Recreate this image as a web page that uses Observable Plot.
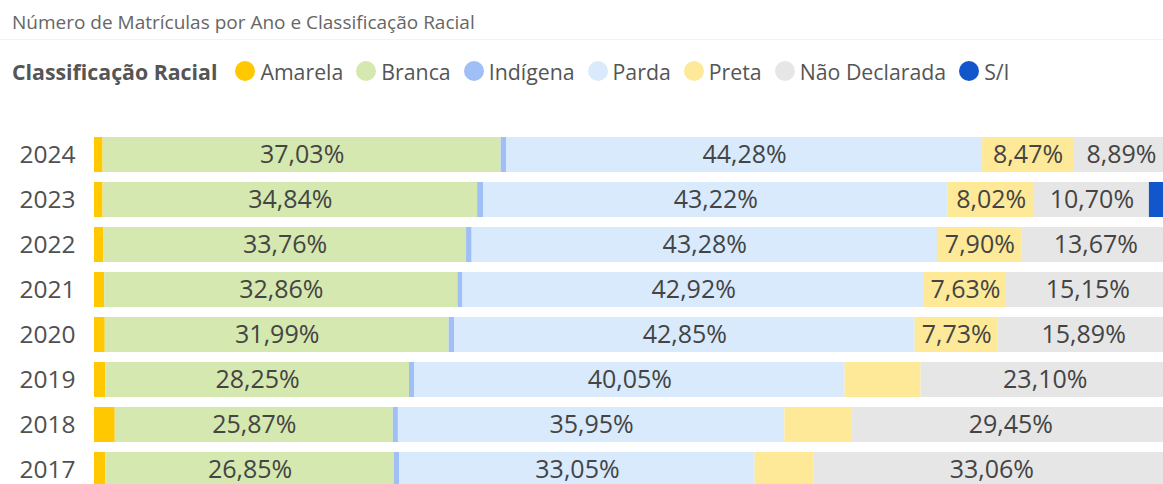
<!DOCTYPE html>
<html><head><meta charset="utf-8">
<script src="https://cdn.jsdelivr.net/npm/d3@7"></script>
<script src="https://cdn.jsdelivr.net/npm/@observablehq/plot@0.6"></script>
<style>
html,body{margin:0;padding:0;overflow:hidden;background:#fff;width:1163px;height:484px}
body{font-family:"Open Sans",sans-serif;position:relative}
#title{position:absolute;left:12px;top:9px;font-size:19px;color:#666;white-space:nowrap}
#sep{position:absolute;left:0;top:39px;width:1163px;height:1px;background:#f3f3f3}
#legend{position:absolute;left:12px;top:58px;height:26px;display:flex;align-items:center;white-space:nowrap;font-size:21.3px;color:#555}
#legend .hdr{font-weight:700;margin-right:18px}
#legend .sw{width:20px;height:20px;border-radius:50%;margin-right:5px;flex:none}
#legend .it{margin-right:13px}
#chart{position:absolute;left:0;top:100px}
</style></head><body>
<div id="title">Número de Matrículas por Ano e Classificação Racial</div>
<div id="sep"></div>
<div id="legend"></div>
<div id="chart"></div>
<script>
const years = ["2024","2023","2022","2021","2020","2019","2018","2017"];
const categories = ["Amarela","Branca","Indígena","Parda","Preta","Não Declarada","S/I"];
const colors = ["#FFC800","#D5E8B0","#A0BFF6","#D8EAFC","#FEE999","#E6E6E6","#1256CC"];
const amarela      = [0.80, 0.80, 0.85, 0.95, 1.00, 1.05, 1.93, 1.05];
const branca       = [37.03,34.84,33.76,32.86,31.99,28.25,25.87,26.85];
const indigena     = [0.50, 0.55, 0.52, 0.47, 0.50, 0.47, 0.47, 0.50];
const parda        = [44.28,43.22,43.28,42.92,42.85,40.05,35.95,33.05];
const preta        = [8.47, 8.02, 7.90, 7.63, 7.73, 7.07, 6.30, 5.49];
const naoDeclarada = [8.89, 10.70,13.67,15.15,15.89,23.10,29.45,33.06];
const semInfo      = [0.00, 1.87, 0.00, 0.00, 0.00, 0.00, 0.00, 0.00];
const series = [amarela, branca, indigena, parda, preta, naoDeclarada, semInfo];

const data = [];
years.forEach((y, i) => categories.forEach((c, j) => data.push({year: y, cat: c, value: series[j][i]})));
const fmt = v => v.toFixed(2).replace(".", ",") + "%";
const labelled = d => ["Branca","Parda","Não Declarada"].includes(d.cat) || (d.cat === "Preta" && d.value >= 7.5);

// legend
const lg = document.getElementById("legend");
lg.innerHTML = `<span class="hdr">Classificação Racial</span>` +
  categories.map((c, j) => `<span class="sw" style="background:${colors[j]}"></span><span class="it">${c}</span>`).join("");

const FONT = '"Open Sans", sans-serif';
const chart = Plot.plot({
  width: 1163,
  height: 420,
  marginLeft: 94,
  marginRight: 0,
  marginTop: 0,
  marginBottom: 0,
  style: {fontFamily: FONT, background: "transparent", overflow: "hidden"},
  x: {domain: [0, 100], range: [94, 1169], axis: null},
  y: {domain: years, range: [24.1, 399.9], padding: 0.223, label: null},
  color: {domain: categories, range: colors},
  marks: [
    Plot.barX(data, Plot.stackX({x: "value", y: "year", fill: "cat", order: categories})),
    Plot.text(data, Plot.stackX({x: "value", y: "year", z: "cat", order: categories,
      text: d => labelled(d) ? fmt(d.value) : "", fill: "#444", fontSize: 25})),
    Plot.axisY({tickSize: 0, tickPadding: 19, fontSize: 24.5, color: "#505050"})
  ]
});
document.getElementById("chart").appendChild(chart);
</script>
</body></html>
